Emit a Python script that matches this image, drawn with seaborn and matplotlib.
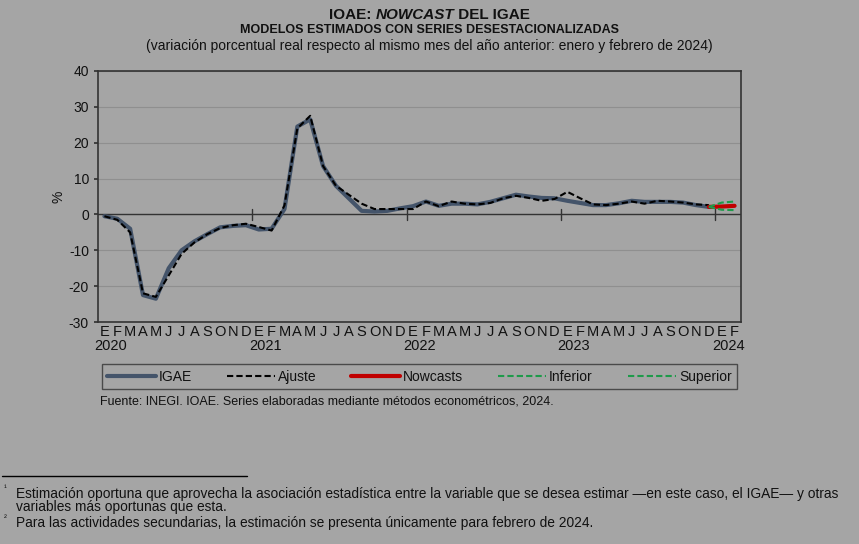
import numpy as np
import pandas as pd
import matplotlib
matplotlib.use("Agg")
import matplotlib.pyplot as plt
import seaborn as sns

# --- data (variación % anual) ---
months = ["E", "F", "M", "A", "M", "J", "J", "A", "S", "O", "N", "D"]
years = ["2020", "2021", "2022", "2023", "2024"]
igae = [-0.5, -1.2, -4.0, -22.5, -23.5, -15.0, -10.0, -7.5, -5.5, -3.6, -3.2, -3.0,
        -4.2, -4.0, 1.5, 24.5, 26.5, 13.5, 8.0, 4.5, 1.0, 0.8, 1.0, 1.7,
        2.3, 3.6, 2.4, 3.0, 3.0, 2.8, 3.5, 4.5, 5.5, 5.0, 4.6, 4.5,
        3.8, 3.2, 2.6, 2.6, 3.1, 3.8, 3.5, 3.5, 3.5, 3.3, 2.6, 2.1]
ajuste = [-0.5, -1.5, -5.0, -22.0, -23.0, -17.0, -11.0, -7.8, -5.5, -3.8, -3.0, -2.6,
          -3.5, -4.5, 2.5, 24.0, 27.5, 13.5, 8.0, 5.5, 3.0, 1.5, 1.5, 1.5,
          1.5, 3.6, 2.3, 3.6, 3.0, 2.8, 3.2, 4.5, 5.2, 4.6, 3.8, 4.3,
          6.3, 4.5, 2.8, 2.6, 3.0, 3.6, 3.0, 3.8, 3.6, 3.3, 2.8, 2.6]
nowcast = [2.1, 2.2, 2.4]      # dic-2023 .. feb-2024
inferior = [2.1, 1.3, 1.2]
superior = [2.1, 3.3, 3.6]

bg = "#a5a5a5"
sns.set_theme(style="white")
plt.rcParams["font.family"] = ["Liberation Sans", "DejaVu Sans"]
plt.rcParams["axes.unicode_minus"] = False
plt.rcParams["text.color"] = "#111111"

fig = plt.figure(figsize=(8.59, 5.44), dpi=100, facecolor=bg)
ax = fig.add_axes([98 / 859, 1 - 322 / 544, 643 / 859, 251 / 544], facecolor=bg)

n = len(igae)
df = pd.DataFrame({"t": np.arange(n), "IGAE": igae, "Ajuste": ajuste})
tn = np.arange(n - 1, n + 2)

for y in range(-30, 41, 10):
    ax.axhline(y, color="#8f8f8f", lw=0.8, zorder=0)
ax.axhline(0, color="#333333", lw=1.0, zorder=1)

sns.lineplot(data=df, x="t", y="IGAE", ax=ax, color="#44546a", lw=3, label="IGAE")
sns.lineplot(data=df, x="t", y="Ajuste", ax=ax, color="black", lw=1.5,
             dashes=False, linestyle=(0, (3, 1.5)), label="Ajuste")
sns.lineplot(x=tn, y=nowcast, ax=ax, color="#c00000", lw=3, label="Nowcasts")
sns.lineplot(x=tn, y=inferior, ax=ax, color="#1e9a4a", lw=1.5, linestyle=(0, (3, 1.5)), label="Inferior")
sns.lineplot(x=tn, y=superior, ax=ax, color="#1e9a4a", lw=1.5, linestyle=(0, (3, 1.5)), label="Superior")

# year separators on the zero line
for xs in [11.5, 23.5, 35.5, 47.5]:
    ax.plot([xs, xs], [-1.5, 1.5], color="#333333", lw=1)

ax.set_xlim(-0.5, n + 1.5)
ax.set_ylim(-30, 40)
ax.set_yticks(range(-30, 41, 10))
ax.tick_params(axis="y", labelsize=10, length=3, left=True, color="#333333", labelcolor="#111111")
labels = [months[i % 12] for i in range(n + 2)]
ax.set_xticks(np.arange(n + 2))
ax.set_xticklabels(labels, fontsize=10.5)
ax.tick_params(axis="x", length=0, pad=2, labelcolor="#111111")
for k, yr in enumerate(years):
    ax.text(12 * k + 0.5, -0.068, yr, transform=ax.get_xaxis_transform(),
            ha="center", va="top", fontsize=10.5)
ax.set_xlabel("")
ax.set_ylabel("%", fontsize=10, labelpad=2, color="#111111")
for s in ax.spines.values():
    s.set_color("#333333")
    s.set_linewidth(1.2)

leg = ax.legend(loc="upper center", bbox_to_anchor=(0.5, -0.14), ncol=5, frameon=True,
                fontsize=10, handlelength=3.5, columnspacing=2.5, handletextpad=0.2,
                borderpad=0.4, fancybox=False, edgecolor="#333333")
leg.get_frame().set_facecolor(bg)

# title with italic part, placed piece by piece
fig.canvas.draw()
r = fig.canvas.get_renderer()
parts = [("IOAE: ", "normal"), ("NOWCAST", "italic"), (" DEL IGAE", "normal")]
ts = [fig.text(0, 0.985, p, va="top", fontsize=11, weight="bold", style=st) for p, st in parts]
widths = [t.get_window_extent(r).width / fig.bbox.width for t in ts]
x0 = 0.5 - sum(widths) / 2
for t, w in zip(ts, widths):
    t.set_x(x0)
    x0 += w

fig.text(0.5, 0.955, "MODELOS ESTIMADOS CON SERIES DESESTACIONALIZADAS", ha="center", va="top",
         fontsize=9, weight="bold")
fig.text(0.5, 0.928, "(variación porcentual real respecto al mismo mes del año anterior: enero y febrero de 2024)",
         ha="center", va="top", fontsize=10)
fig.text(100 / 859, 1 - 402 / 544, "Fuente: INEGI. IOAE. Series elaboradas mediante métodos econométricos, 2024.",
         ha="left", va="center", fontsize=9)

fig.add_artist(plt.Line2D([2 / 859, 247 / 859], [1 - 476 / 544] * 2, color="black", lw=1))
fig.text(4 / 859, 1 - 489 / 544, "¹", fontsize=6, va="center")
fig.text(16 / 859, 1 - 494 / 544,
         "Estimación oportuna que aprovecha la asociación estadística entre la variable que se desea estimar —en este caso, el IGAE— y otras",
         fontsize=9.9, va="center")
fig.text(16 / 859, 1 - 507 / 544, "variables más oportunas que esta.", fontsize=9.9, va="center")
fig.text(4 / 859, 1 - 518 / 544, "²", fontsize=6, va="center")
fig.text(16 / 859, 1 - 523 / 544,
         "Para las actividades secundarias, la estimación se presenta únicamente para febrero de 2024.",
         fontsize=9.9, va="center")

fig.savefig("out.png", dpi=100, facecolor=bg)
